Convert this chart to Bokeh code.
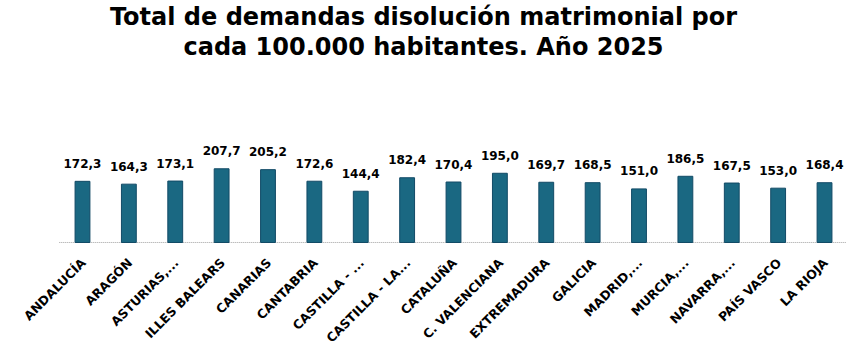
import math
from bokeh.plotting import figure
from bokeh.models import ColumnDataSource, LabelSet, Title, Range1d
from bokeh.core.properties import value
from bokeh.embed import file_html
from bokeh.resources import INLINE

categories = ["ANDALUCÍA", "ARAGÓN", "ASTURIAS,...", "ILLES BALEARS", "CANARIAS",
              "CANTABRIA", "CASTILLA - ...", "CASTILLA - LA...", "CATALUÑA",
              "C. VALENCIANA", "EXTREMADURA", "GALICIA", "MADRID,...", "MURCIA,...",
              "NAVARRA,...", "PAÍS VASCO", "LA RIOJA"]
values = [172.3, 164.3, 173.1, 207.7, 205.2, 172.6, 144.4, 182.4, 170.4,
          195.0, 169.7, 168.5, 151.0, 186.5, 167.5, 153.0, 168.4]
labels = [f"{v:.1f}".replace(".", ",") for v in values]
title_lines = ["Total de demandas disolución matrimonial por",
               "cada 100.000 habitantes. Año 2025"]

n = len(categories)
pos = list(range(n))
src = ColumnDataSource(dict(x=pos, cat=categories, val=values, lab=labels,
                            zero=[0] * n))

p = figure(width=846, height=346, output_backend="svg",
           toolbar_location=None, min_border_left=0, min_border_right=0,
           min_border_top=0, min_border_bottom=0)
p.x_range = Range1d(-1.768, n - 1 + 0.474)
p.y_range = Range1d(-293, 512.7)
p.title.visible = False

t2 = Title(text=title_lines[1], align="center", offset=3, standoff=0,
           text_font="DejaVu Sans", text_font_size="24px",
           text_font_style="bold", text_color="#000000")
t1 = Title(text=title_lines[0], align="center", offset=3, standoff=0,
           text_font="DejaVu Sans", text_font_size="24px",
           text_font_style="bold", text_color="#000000")
p.add_layout(t2, "above")
p.add_layout(t1, "above")

# category axis baseline
p.segment(x0=[-0.5], y0=[0], x1=[n - 0.5], y1=[0],
          line_color="#A0A0A0", line_dash="1 1", line_width=1)

p.vbar(x="x", top="val", width=0.32, source=src,
       fill_color="#1A6882", line_color="#124A66", line_width=1)

ls = LabelSet(x="x", y="val", text="lab", source=src, y_offset=13.5,
              text_align="center", text_baseline="alphabetic",
              text_font=value("DejaVu Sans"), text_font_size=value("12px"),
              text_font_style=value("bold"), text_color="#000000")
p.add_layout(ls)

cl = LabelSet(x="x", y="zero", text="cat", source=src, x_offset=1, y_offset=-18,
              angle=math.pi / 4, text_align="right", text_baseline="middle",
              text_font=value("DejaVu Sans"), text_font_size=value("12.5px"),
              text_font_style=value("bold"), text_color="#000000")
p.add_layout(cl)

p.xaxis.visible = False
p.yaxis.visible = False
p.xgrid.visible = False
p.ygrid.visible = False
p.outline_line_color = None

open("out.html", "w").write(file_html(p, INLINE))
